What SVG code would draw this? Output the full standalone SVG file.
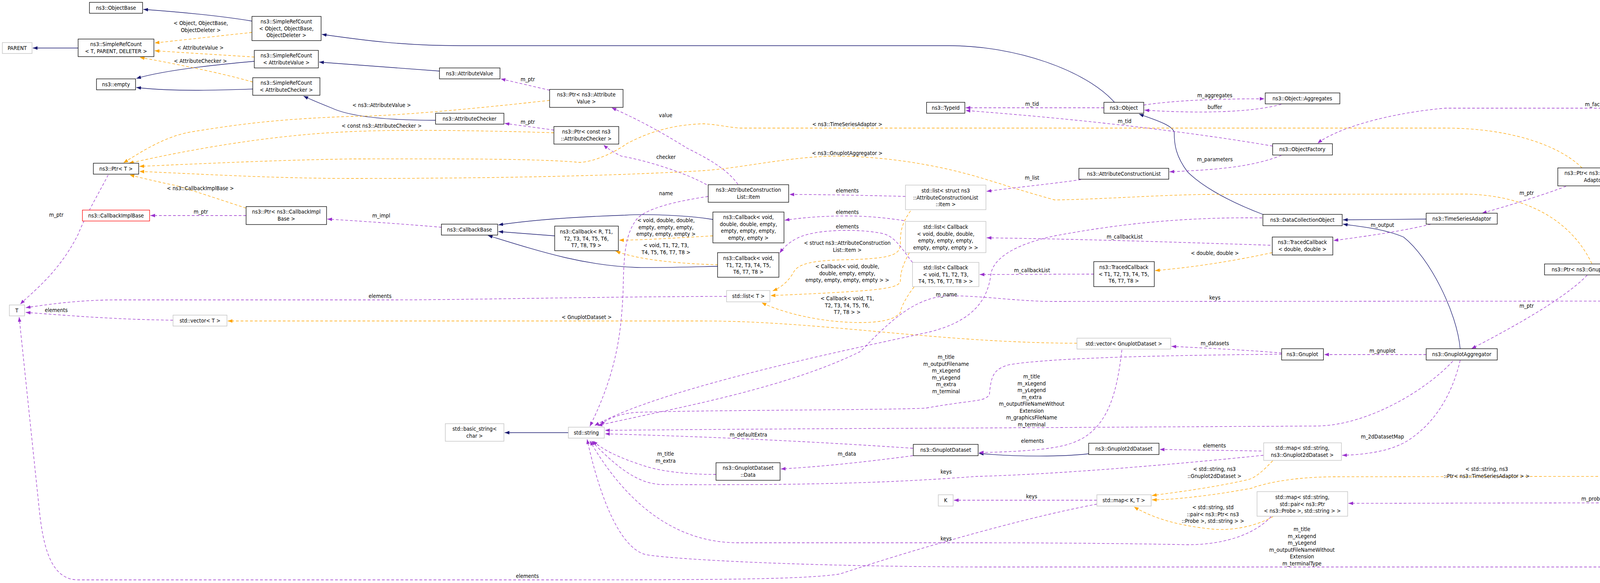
<svg xmlns="http://www.w3.org/2000/svg" width="5008" height="1493" viewBox="0 0 5008 1493">
<style>
text{font-family:"DejaVu Sans Condensed","Liberation Sans Narrow","Liberation Sans",sans-serif;font-size:14px;fill:#000;text-anchor:middle}
.n{fill:#fff;stroke:#000;stroke-width:1.3}
.g{fill:#fff;stroke:#bfbfbf;stroke-width:1.3}
.r{fill:#fff;stroke:#ff0000;stroke-width:1.3}
.h{fill:#bfbfbf;stroke:#000;stroke-width:1.3}
.b{fill:none;stroke:#191970;stroke-width:1.3;marker-end:url(#ab)}
.p{fill:none;stroke:#9a32cd;stroke-width:1.3;stroke-dasharray:7,5;marker-end:url(#ap)}
.o{fill:none;stroke:#ffa500;stroke-width:1.3;stroke-dasharray:7,5;marker-end:url(#ao)}
</style>
<defs>
<marker id="ab" markerUnits="userSpaceOnUse" markerWidth="13" markerHeight="10" refX="12" refY="4.5" orient="auto"><path d="M0,0 L12,4.5 L0,9 z" fill="#191970"/></marker>
<marker id="ap" markerUnits="userSpaceOnUse" markerWidth="13" markerHeight="10" refX="12" refY="4.5" orient="auto"><path d="M0,0 L12,4.5 L0,9 z" fill="#9a32cd"/></marker>
<marker id="ao" markerUnits="userSpaceOnUse" markerWidth="13" markerHeight="10" refX="12" refY="4.5" orient="auto"><path d="M0,0 L12,4.5 L0,9 z" fill="#ffa500"/></marker>
</defs>
<rect width="5008" height="1493" fill="#fff"/>
<g id="edges">
<path class="b" d="M645,54 C560,40 450,30 367,24"/>
<path class="b" d="M200,123 L84,123"/>
<path class="b" d="M651,157 C560,165 420,180 349,201"/>
<path class="b" d="M647,228 C560,231 450,235 349,224"/>
<path class="b" d="M2853,262 C2780,180 2600,117 2430,117 L1180,117 C1030,117 930,103 824,88"/>
<path class="b" d="M1125,182 C1000,172 900,165 817,159"/>
<path class="b" d="M1115,308 C1000,308 900,300 850,277 C820,265 800,257 777,246"/>
<path class="b" d="M3233,549 C3130,510 3070,470 3040,440 C3010,400 3006,370 3006,340 C3004,320 2950,305 2916,292"/>
<path class="b" d="M3651,561 L3438,563"/>
<path class="b" d="M3738,893 C3730,800 3660,660 3593,607 C3540,585 3480,580 3438,574"/>
<path class="b" d="M1825,562 C1750,550 1650,548 1600,551 C1450,556 1350,565 1276,576"/>
<path class="b" d="M1420,604 L1276,593"/>
<path class="b" d="M1838,682 C1750,684 1680,686 1631,685 C1500,680 1400,650 1249,603"/>
<path class="b" d="M1455,1108 L1292,1108"/>
<path class="b" d="M2787,1162 C2720,1170 2600,1170 2506,1161"/>

<path class="o" d="M645,83 L396,110"/>
<path class="o" d="M651,146 L396,130"/>
<path class="o" d="M647,210 C560,185 430,160 358,147"/>
<path class="o" d="M1407,257 C1200,280 1000,298 900,298 C700,305 600,320 488,338 C420,350 360,390 316,417"/>
<path class="o" d="M1418,340 C1200,333 1000,332 900,337 C700,345 500,380 330,418"/>
<path class="o" d="M4050,430 C3990,370 3860,328 3700,328 L1892,328 C1860,325 1830,318 1800,317 C1700,320 1640,350 1606,367 C1560,400 1500,420 1474,415 C1350,405 1100,407 900,407 C700,410 500,420 357,426"/>
<path class="o" d="M4075,675 C4040,600 3950,500 3750,497 L3083,498 C2950,500 2830,510 2700,512 C2620,490 2560,470 2529,461 C2400,420 2250,398 2121,400 C2000,405 1900,430 1800,437 C1500,455 1100,457 900,457 C700,457 500,445 357,439"/>
<path class="o" d="M630,533 C560,510 500,490 450,475 C400,465 360,455 332,448"/>
<path class="o" d="M1825,604 C1720,610 1640,615 1585,615"/>
<path class="o" d="M1838,678 C1760,676 1640,668 1576,643"/>
<path class="o" d="M2331,540 C2310,570 2305,590 2305,620 C2305,650 2295,662 2169,665 C2060,667 2040,680 2030,700 C2015,725 1995,738 1978,745"/>
<path class="o" d="M2328,647 C2310,680 2305,700 2305,720 C2300,740 2250,745 1973,757"/>
<path class="o" d="M2340,735 C2320,760 2305,790 2305,800 C2290,820 2250,826 2202,826 C2100,826 2000,800 1950,775"/>
<path class="o" d="M2757,879 C2400,878 2100,822 1800,822 L583,822"/>
<path class="o" d="M3257,647 C3150,670 3050,685 2957,693"/>
<path class="o" d="M3258,1180 C3230,1210 3210,1225 3196,1228 C3100,1250 3000,1262 2949,1269"/>
<path class="o" d="M4471,796 C4455,870 4440,900 4431,910 C4400,1050 4300,1220 4108,1220 L3412,1221 C3300,1222 3230,1240 3205,1250 C3100,1270 3000,1280 2949,1280"/>
<path class="o" d="M3259,1323 C3220,1345 3160,1360 3105,1355 C3000,1345 2940,1320 2903,1298"/>

<path class="p" d="M1407,231 L1282,202"/>
<path class="p" d="M1418,333 L1292,316"/>
<path class="p" d="M1889,472 C1860,430 1800,400 1760,380 C1680,330 1620,300 1566,276"/>
<path class="p" d="M1809,473 C1750,440 1650,410 1591,400 C1570,390 1555,380 1545,371"/>
<path class="p" d="M1813,503 C1700,520 1650,540 1631,560 C1600,600 1597,650 1595,750 C1590,850 1580,950 1510,1092"/>
<path class="p" d="M277,448 C250,500 220,550 200,600 C150,700 80,750 52,779"/>
<path class="p" d="M630,552 L385,552"/>
<path class="p" d="M1130,582 C1050,575 950,568 838,561"/>
<path class="p" d="M1860,759 C1500,760 1200,768 1000,768 L300,768 C200,768 120,780 66,788"/>
<path class="p" d="M443,820 C300,818 200,810 66,800"/>
<path class="p" d="M2808,1291 C2600,1330 2300,1420 2150,1470 C2050,1485 1800,1485 1300,1485 L200,1485 C130,1485 110,1400 100,1300 L49,812"/>
<path class="p" d="M2826,276 L2472,276"/>
<path class="p" d="M3258,374 C3000,330 2700,300 2472,283"/>
<path class="p" d="M2928,269 C3000,258 3100,253 3237,253"/>
<path class="p" d="M3280,267 C3200,290 3050,290 2930,282"/>
<path class="p" d="M3280,398 C3200,430 3100,435 2994,440"/>
<path class="p" d="M4919,757 C4880,600 4800,420 4701,378 C4620,300 4560,277 4492,277 L3700,277 C3550,290 3420,330 3373,367"/>
<path class="p" d="M2767,460 C2700,470 2600,480 2526,490"/>
<path class="p" d="M3252,628 C3000,620 2800,613 2526,609"/>
<path class="p" d="M2800,702 C2700,702 2600,703 2508,703"/>
<path class="p" d="M2318,503 C2200,500 2100,498 2021,498"/>
<path class="p" d="M2314,565 C2250,555 2200,553 2169,553 C2100,553 2050,558 2009,564"/>
<path class="p" d="M2336,672 C2310,640 2294,607 2260,598 C2220,590 2180,590 2169,590 C2100,590 2060,600 2041,610 C2020,620 2005,635 1996,648"/>
<path class="p" d="M3231,558 C3000,555 2830,580 2700,604 C2600,625 2545,660 2537,700 C2530,760 2500,820 2380,850 C2200,890 1700,990 1522,1090"/>
<path class="p" d="M4338,771 L2700,772 C2600,772 2500,755 2420,758 C2340,765 2280,820 2203,900 C2000,1000 1700,1050 1530,1090"/>
<path class="p" d="M3663,574 C3600,590 3500,605 3414,616"/>
<path class="p" d="M3281,904 C3200,897 3100,892 2999,887"/>
<path class="p" d="M3651,908 L3390,908"/>
<path class="p" d="M3281,907 C3000,910 2700,915 2583,934 C2545,945 2537,960 2533,1010 C2520,1030 2500,1022 2371,1045 C2300,1050 1800,1050 1629,1056 C1580,1060 1550,1075 1537,1089"/>
<path class="p" d="M3719,925 C3650,1000 3500,1090 3370,1091 L2500,1096 C2000,1098 1800,1100 1549,1102"/>
<path class="p" d="M2337,1148 C2000,1125 1700,1115 1549,1111"/>
<path class="p" d="M2337,1167 C2200,1185 2100,1195 1999,1201"/>
<path class="p" d="M1833,1215 C1750,1215 1680,1205 1640,1190 C1580,1170 1540,1150 1518,1129"/>
<path class="p" d="M3234,1166 C3000,1190 2700,1215 2500,1220 C2300,1235 2100,1243 1698,1241 C1650,1240 1600,1220 1514,1129"/>
<path class="p" d="M3229,1155 L2969,1151"/>
<path class="p" d="M3738,923 C3720,1000 3680,1080 3603,1129 C3560,1155 3500,1164 3436,1166"/>
<path class="p" d="M2872,896 C2860,1000 2840,1080 2774,1121 C2740,1140 2700,1155 2506,1159"/>
<path class="p" d="M2808,1281 L2442,1281"/>
<path class="p" d="M3254,1323 C3220,1360 3150,1395 3039,1395 C2900,1392 2700,1390 2500,1390 L1889,1390 C1700,1390 1580,1250 1510,1129"/>
<path class="p" d="M4926,786 C4915,850 4910,880 4909,900 C4880,1200 4750,1452 4493,1452 L2500,1452 C2000,1450 1700,1430 1652,1420 C1580,1400 1530,1250 1503,1125"/>
<path class="p" d="M4922,786 C4905,850 4890,880 4878,900 C4800,1150 4700,1287 4493,1287 L3452,1289"/>
<path class="p" d="M4863,755 C4700,720 4400,700 4223,695"/>
<path class="p" d="M4851,771 L4625,771"/>
<path class="p" d="M4396,749 C4340,700 4290,660 4267,646 C4200,600 4140,540 4106,478"/>
<path class="p" d="M4009,477 C3950,500 3850,530 3794,546"/>
<path class="p" d="M4063,705 C4000,770 3850,850 3767,893"/>
</g>
<g id="edge-labels">
<text x="514" y="64">&lt; Object, ObjectBase,<tspan x="514" dy="17.5">ObjectDeleter &gt;</tspan></text>
<text x="513" y="127">&lt; AttributeValue &gt;</text>
<text x="513" y="161">&lt; AttributeChecker &gt;</text>
<text x="977" y="274">&lt; ns3::AttributeValue &gt;</text>
<text x="977" y="327">&lt; const ns3::AttributeChecker &gt;</text>
<text x="513" y="487">&lt; ns3::CallbackImplBase &gt;</text>
<text x="1351" y="208">m_ptr</text>
<text x="1351" y="317">m_ptr</text>
<text x="1704" y="300">value</text>
<text x="1705" y="407">checker</text>
<text x="1705" y="500">name</text>
<text x="144" y="555">m_ptr</text>
<text x="514" y="547">m_ptr</text>
<text x="976" y="557">m_impl</text>
<text x="973" y="763">elements</text>
<text x="144" y="799">elements</text>
<text x="1502" y="817">&lt; GnuplotDataset &gt;</text>
<text x="1705" y="569">&lt; void, double, double,<tspan x="1705" dy="17.5">empty, empty, empty,</tspan><tspan x="1705" dy="17.5">empty, empty, empty &gt;</tspan></text>
<text x="1705" y="633">&lt; void, T1, T2, T3,<tspan x="1705" dy="17.5">T4, T5, T6, T7, T8 &gt;</tspan></text>
<text x="2169" y="493">elements</text>
<text x="2169" y="548">elements</text>
<text x="2169" y="585">elements</text>
<text x="2169" y="627">&lt; struct ns3::AttributeConstruction<tspan x="2169" dy="17.5">List::Item &gt;</tspan></text>
<text x="2169" y="687">&lt; Callback&lt; void, double,<tspan x="2169" dy="17.5">double, empty, empty,</tspan><tspan x="2169" dy="17.5">empty, empty, empty, empty &gt; &gt;</tspan></text>
<text x="2169" y="769">&lt; Callback&lt; void, T1,<tspan x="2169" dy="17.5">T2, T3, T4, T5, T6,</tspan><tspan x="2169" dy="17.5">T7, T8 &gt; &gt;</tspan></text>
<text x="2642" y="460">m_list</text>
<text x="2642" y="697">m_callbackList</text>
<text x="2423" y="759">m_name</text>
<text x="2169" y="323">&lt; ns3::TimeSeriesAdaptor &gt;</text>
<text x="2169" y="397">&lt; ns3::GnuplotAggregator &gt;</text>
<text x="2642" y="271">m_tid</text>
<text x="2879" y="315">m_tid</text>
<text x="3110" y="249">m_aggregates</text>
<text x="3110" y="279">buffer</text>
<text x="3110" y="413">m_parameters</text>
<text x="4089" y="272">m_factory</text>
<text x="3539" y="581">m_output</text>
<text x="2879" y="611">m_callbackList</text>
<text x="3110" y="653">&lt; double, double &gt;</text>
<text x="3110" y="767">keys</text>
<text x="3110" y="884">m_datasets</text>
<text x="3539" y="903">m_gnuplot</text>
<text x="3908" y="499">m_ptr</text>
<text x="4281" y="640">elements</text>
<text x="4482" y="697">m_aggregator</text>
<text x="4738" y="766">m_timeSeriesAdaptorMap</text>
<text x="3908" y="788">m_ptr</text>
<text x="2422" y="919">m_title<tspan x="2422" dy="17.5">m_outputFilename</tspan><tspan x="2422" dy="17.5">m_xLegend</tspan><tspan x="2422" dy="17.5">m_yLegend</tspan><tspan x="2422" dy="17.5">m_extra</tspan><tspan x="2422" dy="17.5">m_terminal</tspan></text>
<text x="2641" y="969">m_title<tspan x="2641" dy="17.5">m_xLegend</tspan><tspan x="2641" dy="17.5">m_yLegend</tspan><tspan x="2641" dy="17.5">m_extra</tspan><tspan x="2641" dy="17.5">m_outputFileNameWithout</tspan><tspan x="2641" dy="17.5">Extension</tspan><tspan x="2641" dy="17.5">m_graphicsFileName</tspan><tspan x="2641" dy="17.5">m_terminal</tspan></text>
<text x="1916" y="1118">m_defaultExtra</text>
<text x="2168" y="1167">m_data</text>
<text x="1704" y="1167">m_title<tspan x="1704" dy="17.5">m_extra</tspan></text>
<text x="2422" y="1213">keys</text>
<text x="2422" y="1384">keys</text>
<text x="1350" y="1480">elements</text>
<text x="2643" y="1134">elements</text>
<text x="3109" y="1146">elements</text>
<text x="3539" y="1123">m_2dDatasetMap</text>
<text x="3109" y="1206">&lt; std::string, ns3<tspan x="3109" dy="17.5">::Gnuplot2dDataset &gt;</tspan></text>
<text x="3806" y="1206">&lt; std::string, ns3<tspan x="3806" dy="17.5">::Ptr&lt; ns3::TimeSeriesAdaptor &gt; &gt;</tspan></text>
<text x="2641" y="1276">keys</text>
<text x="3105" y="1304">&lt; std::string, std<tspan x="3105" dy="17.5">::pair&lt; ns3::Ptr&lt; ns3</tspan><tspan x="3105" dy="17.5">::Probe &gt;, std::string &gt; &gt;</tspan></text>
<text x="3333" y="1360">m_title<tspan x="3333" dy="17.5">m_xLegend</tspan><tspan x="3333" dy="17.5">m_yLegend</tspan><tspan x="3333" dy="17.5">m_outputFileNameWithout</tspan><tspan x="3333" dy="17.5">Extension</tspan><tspan x="3333" dy="17.5">m_terminalType</tspan></text>
<text x="4089" y="1282">m_probeMap</text>
</g>
<g id="n1"><rect class="n" x="229" y="6" width="136" height="28"/><text x="297" y="25">ns3::ObjectBase</text></g>
<g id="n2"><rect class="n" x="645" y="42" width="177" height="62"/><text x="733" y="60">ns3::SimpleRefCount<tspan x="733" dy="17.5">&lt; Object, ObjectBase,</tspan><tspan x="733" dy="17.5">ObjectDeleter &gt;</tspan></text></g>
<g id="n3"><rect class="g" x="6" y="109" width="76" height="28"/><text x="44" y="128">PARENT</text></g>
<g id="n4"><rect class="n" x="200" y="100" width="194" height="45"/><text x="297" y="118">ns3::SimpleRefCount<tspan x="297" dy="17.5">&lt; T, PARENT, DELETER &gt;</tspan></text></g>
<g id="n5"><rect class="n" x="651" y="129" width="164" height="45"/><text x="733" y="147">ns3::SimpleRefCount<tspan x="733" dy="17.5">&lt; AttributeValue &gt;</tspan></text></g>
<g id="n6"><rect class="n" x="247" y="202" width="100" height="28"/><text x="297" y="221">ns3::empty</text></g>
<g id="n7"><rect class="n" x="647" y="199" width="172" height="45"/><text x="733" y="217">ns3::SimpleRefCount<tspan x="733" dy="17.5">&lt; AttributeChecker &gt;</tspan></text></g>
<g id="n8"><rect class="n" x="239" y="418" width="116" height="28"/><text x="297" y="437">ns3::Ptr&lt; T &gt;</text></g>
<g id="n9"><rect class="n" x="1125" y="174" width="155" height="28"/><text x="1202" y="193">ns3::AttributeValue</text></g>
<g id="n10"><rect class="n" x="1407" y="229" width="188" height="46"/><text x="1501" y="247">ns3::Ptr&lt; ns3::Attribute<tspan x="1501" dy="17.5">Value &gt;</tspan></text></g>
<g id="n11"><rect class="n" x="1115" y="290" width="175" height="28"/><text x="1202" y="309">ns3::AttributeChecker</text></g>
<g id="n12"><rect class="n" x="1418" y="324" width="166" height="45"/><text x="1501" y="342">ns3::Ptr&lt; const ns3<tspan x="1501" dy="17.5">::AttributeChecker &gt;</tspan></text></g>
<g id="n13"><rect class="n" x="2372" y="262" width="98" height="28"/><text x="2421" y="281">ns3::TypeId</text></g>
<g id="n14"><rect class="n" x="2826" y="262" width="102" height="28"/><text x="2877" y="281">ns3::Object</text></g>
<g id="n15"><rect class="n" x="3239" y="238" width="191" height="28"/><text x="3334" y="257">ns3::Object::Aggregates</text></g>
<g id="n16"><rect class="n" x="3258" y="368" width="153" height="29"/><text x="3334" y="387">ns3::ObjectFactory</text></g>
<g id="n17"><rect class="n" x="2762" y="431" width="230" height="28"/><text x="2877" y="450">ns3::AttributeConstructionList</text></g>
<g id="n18"><rect class="n" x="3988" y="430" width="199" height="46"/><text x="4087" y="448">ns3::Ptr&lt; ns3::TimeSeries<tspan x="4087" dy="17.5">Adaptor &gt;</tspan></text></g>
<g id="n19"><rect class="n" x="3651" y="546" width="182" height="28"/><text x="3742" y="565">ns3::TimeSeriesAdaptor</text></g>
<g id="n20"><rect class="n" x="3954" y="676" width="267" height="28"/><text x="4087" y="695">ns3::Ptr&lt; ns3::GnuplotAggregator &gt;</text></g>
<g id="n21"><rect class="g" x="4338" y="749" width="285" height="45"/><text x="4480" y="767">std::map&lt; std::string,<tspan x="4480" dy="17.5">ns3::Ptr&lt; ns3::TimeSeriesAdaptor &gt; &gt;</tspan></text></g>
<g id="n22"><rect class="h" x="4851" y="757" width="150" height="28"/><text x="4926" y="776">ns3::GnuplotHelper</text></g>
<g id="n23"><rect class="r" x="211" y="538" width="172" height="28"/><text x="297" y="557">ns3::CallbackImplBase</text></g>
<g id="n24"><rect class="n" x="630" y="529" width="206" height="46"/><text x="733" y="547">ns3::Ptr&lt; ns3::CallbackImpl<tspan x="733" dy="17.5">Base &gt;</tspan></text></g>
<g id="n25"><rect class="g" x="24" y="781" width="39" height="28"/><text x="43" y="800">T</text></g>
<g id="n26"><rect class="g" x="443" y="807" width="138" height="28"/><text x="512" y="826">std::vector&lt; T &gt;</text></g>
<g id="n27"><rect class="n" x="1130" y="574" width="144" height="28"/><text x="1202" y="593">ns3::CallbackBase</text></g>
<g id="n28"><rect class="n" x="1420" y="579" width="163" height="63"/><text x="1501" y="598">ns3::Callback&lt; R, T1,<tspan x="1501" dy="17.5">T2, T3, T4, T5, T6,</tspan><tspan x="1501" dy="17.5">T7, T8, T9 &gt;</tspan></text></g>
<g id="n29"><rect class="n" x="1813" y="473" width="206" height="45"/><text x="1916" y="491">ns3::AttributeConstruction<tspan x="1916" dy="17.5">List::Item</tspan></text></g>
<g id="n30"><rect class="n" x="1825" y="543" width="182" height="79"/><text x="1916" y="561">ns3::Callback&lt; void,<tspan x="1916" dy="17.5">double, double, empty,</tspan><tspan x="1916" dy="17.5">empty, empty, empty,</tspan><tspan x="1916" dy="17.5">empty, empty &gt;</tspan></text></g>
<g id="n31"><rect class="n" x="1837" y="647" width="157" height="63"/><text x="1916" y="666">ns3::Callback&lt; void,<tspan x="1916" dy="17.5">T1, T2, T3, T4, T5,</tspan><tspan x="1916" dy="17.5">T6, T7, T8 &gt;</tspan></text></g>
<g id="n32"><rect class="g" x="1860" y="744" width="111" height="29"/><text x="1916" y="763">std::list&lt; T &gt;</text></g>
<g id="n33"><rect class="g" x="2318" y="474" width="206" height="63"/><text x="2421" y="493">std::list&lt; struct ns3<tspan x="2421" dy="17.5">::AttributeConstructionList</tspan><tspan x="2421" dy="17.5">::Item &gt;</tspan></text></g>
<g id="n34"><rect class="g" x="2318" y="567" width="206" height="80"/><text x="2421" y="586">std::list&lt; Callback<tspan x="2421" dy="17.5">&lt; void, double, double,</tspan><tspan x="2421" dy="17.5">empty, empty, empty,</tspan><tspan x="2421" dy="17.5">empty, empty, empty &gt; &gt;</tspan></text></g>
<g id="n35"><rect class="g" x="2336" y="672" width="170" height="62"/><text x="2421" y="690">std::list&lt; Callback<tspan x="2421" dy="17.5">&lt; void, T1, T2, T3,</tspan><tspan x="2421" dy="17.5">T4, T5, T6, T7, T8 &gt; &gt;</tspan></text></g>
<g id="n36"><rect class="n" x="3233" y="549" width="203" height="29"/><text x="3334" y="568">ns3::DataCollectionObject</text></g>
<g id="n37"><rect class="n" x="3257" y="607" width="155" height="46"/><text x="3334" y="625">ns3::TracedCallback<tspan x="3334" dy="17.5">&lt; double, double &gt;</tspan></text></g>
<g id="n38"><rect class="n" x="2800" y="670" width="155" height="64"/><text x="2877" y="689">ns3::TracedCallback<tspan x="2877" dy="17.5">&lt; T1, T2, T3, T4, T5,</tspan><tspan x="2877" dy="17.5">T6, T7, T8 &gt;</tspan></text></g>
<g id="n39"><rect class="g" x="2757" y="866" width="240" height="28"/><text x="2877" y="885">std::vector&lt; GnuplotDataset &gt;</text></g>
<g id="n40"><rect class="n" x="3281" y="893" width="107" height="29"/><text x="3334" y="912">ns3::Gnuplot</text></g>
<g id="n41"><rect class="n" x="3651" y="893" width="182" height="29"/><text x="3742" y="912">ns3::GnuplotAggregator</text></g>
<g id="n42"><rect class="g" x="1455" y="1094" width="92" height="28"/><text x="1501" y="1113">std::string</text></g>
<g id="n43"><rect class="g" x="1140" y="1085" width="150" height="45"/><text x="1215" y="1103">std::basic_string&lt;<tspan x="1215" dy="17.5">char &gt;</tspan></text></g>
<g id="n44"><rect class="n" x="2338" y="1138" width="166" height="29"/><text x="2421" y="1157">ns3::GnuplotDataset</text></g>
<g id="n45"><rect class="n" x="1833" y="1185" width="164" height="45"/><text x="1915" y="1203">ns3::GnuplotDataset<tspan x="1915" dy="17.5">::Data</tspan></text></g>
<g id="n46"><rect class="n" x="2787" y="1135" width="180" height="29"/><text x="2877" y="1154">ns3::Gnuplot2dDataset</text></g>
<g id="n47"><rect class="g" x="3235" y="1134" width="199" height="45"/><text x="3334" y="1152">std::map&lt; std::string,<tspan x="3334" dy="17.5">ns3::Gnuplot2dDataset &gt;</tspan></text></g>
<g id="n48"><rect class="g" x="2402" y="1267" width="38" height="29"/><text x="2421" y="1286">K</text></g>
<g id="n49"><rect class="g" x="2808" y="1267" width="139" height="29"/><text x="2877" y="1286">std::map&lt; K, T &gt;</text></g>
<g id="n50"><rect class="g" x="3218" y="1259" width="232" height="63"/><text x="3334" y="1278">std::map&lt; std::string,<tspan x="3334" dy="17.5">std::pair&lt; ns3::Ptr</tspan><tspan x="3334" dy="17.5">&lt; ns3::Probe &gt;, std::string &gt; &gt;</tspan></text></g>
</svg>
